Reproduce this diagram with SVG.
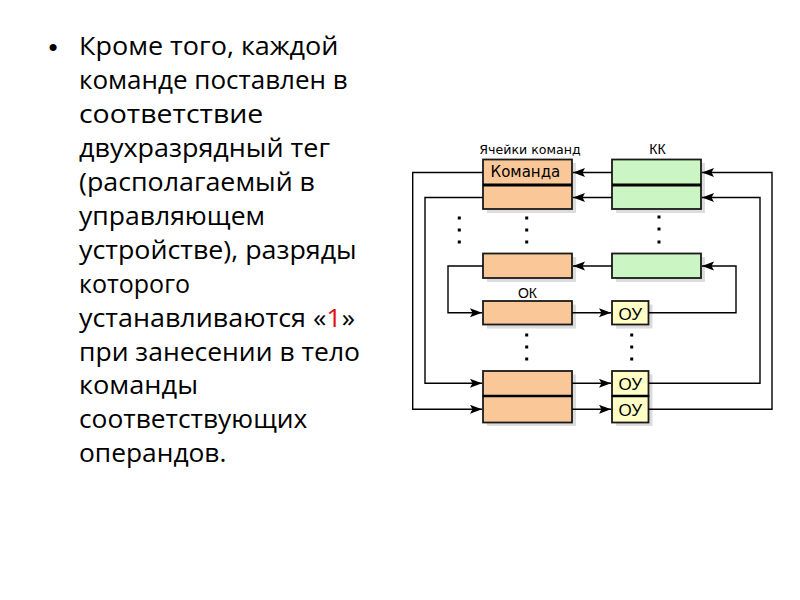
<svg xmlns="http://www.w3.org/2000/svg" width="800" height="600" viewBox="0 0 800 600">
<style>
.body{font-family:"Open Sans","Noto Sans","DejaVu Sans",sans-serif;font-size:25.5px;fill:#000}
.lbl{font-family:"Liberation Sans",Arial,sans-serif;fill:#000}
.lbd{font-family:"DejaVu Sans","Liberation Sans",sans-serif;fill:#000}
.or{fill:#FAC898;stroke:#1a1a1a;stroke-width:1.8}
.gr{fill:#CCF5C4;stroke:#1a1a1a;stroke-width:1.8}
.ye{fill:#FFFFC6;stroke:#1a1a1a;stroke-width:1.8}
.sh{fill:#DCDCDC}
.ln{fill:none;stroke:#000;stroke-width:1.4}
.dot{fill:#000}
</style>
<defs>
<marker id="ah" markerUnits="userSpaceOnUse" markerWidth="13" markerHeight="10" refX="12" refY="4.5" orient="auto">
<path d="M0,0 L12,4.5 L0,9 L2.5,4.5 Z" fill="#000"/>
</marker>
</defs>
<rect width="800" height="600" fill="#fff"/>

<g id="text">
<text class="lbl" x="48.5" y="56" font-size="26">•</text>
<text class="body" x="79" y="55" textLength="259.5" lengthAdjust="spacingAndGlyphs">Кроме того, каждой</text>
<text class="body" x="79" y="89" textLength="268.7" lengthAdjust="spacingAndGlyphs">команде поставлен в</text>
<text class="body" x="79" y="123" textLength="184.3" lengthAdjust="spacingAndGlyphs">соответствие</text>
<text class="body" x="79" y="157" textLength="251" lengthAdjust="spacingAndGlyphs">двухразрядный тег</text>
<text class="body" x="79" y="191" textLength="236" lengthAdjust="spacingAndGlyphs">(располагаемый в</text>
<text class="body" x="79" y="225" textLength="186" lengthAdjust="spacingAndGlyphs">управляющем</text>
<text class="body" x="79" y="259" textLength="277.7" lengthAdjust="spacingAndGlyphs">устройстве), разряды</text>
<text class="body" x="79" y="293" textLength="111" lengthAdjust="spacingAndGlyphs">которого</text>
<text class="body" x="79" y="326.8" textLength="276" lengthAdjust="spacingAndGlyphs">устанавливаются «<tspan fill="#E01010">1</tspan>»</text>
<text class="body" x="79" y="360.6" textLength="281" lengthAdjust="spacingAndGlyphs">при занесении в тело</text>
<text class="body" x="79" y="394.4" textLength="119" lengthAdjust="spacingAndGlyphs">команды</text>
<text class="body" x="79" y="428.2" textLength="228.3" lengthAdjust="spacingAndGlyphs">соответствующих</text>
<text class="body" x="79" y="461.8" textLength="147.4" lengthAdjust="spacingAndGlyphs">операндов.</text>
</g>

<g id="labels">
<text class="lbd" x="530" y="154" font-size="12.6" text-anchor="middle">Ячейки команд</text>
<text class="lbl" x="657.5" y="153.5" font-size="14" text-anchor="middle">КК</text>
<text class="lbl" x="527.5" y="298" font-size="14" text-anchor="middle">ОК</text>
</g>

<g id="shadows">
<rect class="sh" x="487" y="163" width="89" height="50"/>
<rect class="sh" x="616" y="163" width="89" height="50"/>
<rect class="sh" x="487" y="257" width="89" height="25"/>
<rect class="sh" x="616" y="257" width="89" height="25"/>
<rect class="sh" x="487" y="304.5" width="89" height="24"/>
<rect class="sh" x="616" y="304.5" width="36.5" height="24"/>
<rect class="sh" x="487" y="374.5" width="89" height="51.5"/>
<rect class="sh" x="616" y="374.5" width="36.5" height="51.5"/>
</g>

<g id="cmd1">
<rect class="or" x="483" y="159.5" width="89" height="49.5"/>
<line x1="483" y1="185" x2="572" y2="185" stroke="#000" stroke-width="3"/>
<text class="lbd" x="490.5" y="176.8" font-size="15">Команда</text>
</g>
<g id="cmd3"><rect class="or" x="483" y="253.5" width="89" height="24.5"/></g>
<g id="ok1"><rect class="or" x="483" y="301" width="89" height="23.5"/></g>
<g id="ok2"><rect class="or" x="483" y="371" width="89" height="25"/></g>
<g id="ok3"><rect class="or" x="483" y="396" width="89" height="26.5"/>
<line x1="483" y1="396" x2="572" y2="396" stroke="#000" stroke-width="2.6"/></g>

<g id="kk1">
<rect class="gr" x="612" y="159.5" width="89" height="49.5"/>
<line x1="612" y1="185" x2="701" y2="185" stroke="#000" stroke-width="3"/>
</g>
<g id="kk3"><rect class="gr" x="612" y="253.5" width="89" height="24.5"/></g>

<g id="ou1"><rect class="ye" x="612" y="301" width="36.5" height="23.5"/>
<text class="lbl" x="630.3" y="319.5" font-size="17" text-anchor="middle">ОУ</text></g>
<g id="ou2"><rect class="ye" x="612" y="371" width="36.5" height="25"/>
<text class="lbl" x="630.3" y="390" font-size="17" text-anchor="middle">ОУ</text></g>
<g id="ou3"><rect class="ye" x="612" y="396" width="36.5" height="26.5"/>
<line x1="612" y1="396" x2="648.5" y2="396" stroke="#000" stroke-width="2.6"/>
<text class="lbl" x="630.3" y="416" font-size="17" text-anchor="middle">ОУ</text></g>

<g id="dots">
<rect class="dot" x="457.8" y="216.5" width="3" height="3"/>
<rect class="dot" x="457.8" y="228.5" width="3" height="3"/>
<rect class="dot" x="457.8" y="240.5" width="3" height="3"/>
<rect class="dot" x="525.2" y="216.5" width="3" height="3"/>
<rect class="dot" x="525.2" y="228.5" width="3" height="3"/>
<rect class="dot" x="525.2" y="240.5" width="3" height="3"/>
<rect class="dot" x="657.5" y="215.5" width="3" height="3"/>
<rect class="dot" x="657.5" y="227.5" width="3" height="3"/>
<rect class="dot" x="657.5" y="240.5" width="3" height="3"/>
<rect class="dot" x="525.2" y="333.5" width="3" height="3"/>
<rect class="dot" x="525.2" y="345.5" width="3" height="3"/>
<rect class="dot" x="525.2" y="357.5" width="3" height="3"/>
<rect class="dot" x="630.2" y="333.5" width="3" height="3"/>
<rect class="dot" x="630.2" y="345.5" width="3" height="3"/>
<rect class="dot" x="630.2" y="357.5" width="3" height="3"/>
</g>

<g id="connectors">
<line class="ln" x1="612" y1="172.5" x2="573" y2="172.5" marker-end="url(#ah)"/>
<line class="ln" x1="612" y1="197.5" x2="573" y2="197.5" marker-end="url(#ah)"/>
<line class="ln" x1="612" y1="266" x2="573" y2="266" marker-end="url(#ah)"/>
<line class="ln" x1="572" y1="312.7" x2="611" y2="312.7" marker-end="url(#ah)"/>
<line class="ln" x1="572" y1="383.3" x2="611" y2="383.3" marker-end="url(#ah)"/>
<line class="ln" x1="572" y1="409.3" x2="611" y2="409.3" marker-end="url(#ah)"/>
<polyline class="ln" points="648.5,312.7 736,312.7 736,266 702,266" marker-end="url(#ah)"/>
<polyline class="ln" points="648.5,383.3 760,383.3 760,197.5 702,197.5" marker-end="url(#ah)"/>
<polyline class="ln" points="648.5,409.3 772,409.3 772,172.5 702,172.5" marker-end="url(#ah)"/>
<polyline class="ln" points="483,172.5 412.7,172.5 412.7,409.3 482,409.3" marker-end="url(#ah)"/>
<polyline class="ln" points="483,197.5 425,197.5 425,383.3 482,383.3" marker-end="url(#ah)"/>
<polyline class="ln" points="483,266 448,266 448,312.7 482,312.7" marker-end="url(#ah)"/>
</g>
</svg>
